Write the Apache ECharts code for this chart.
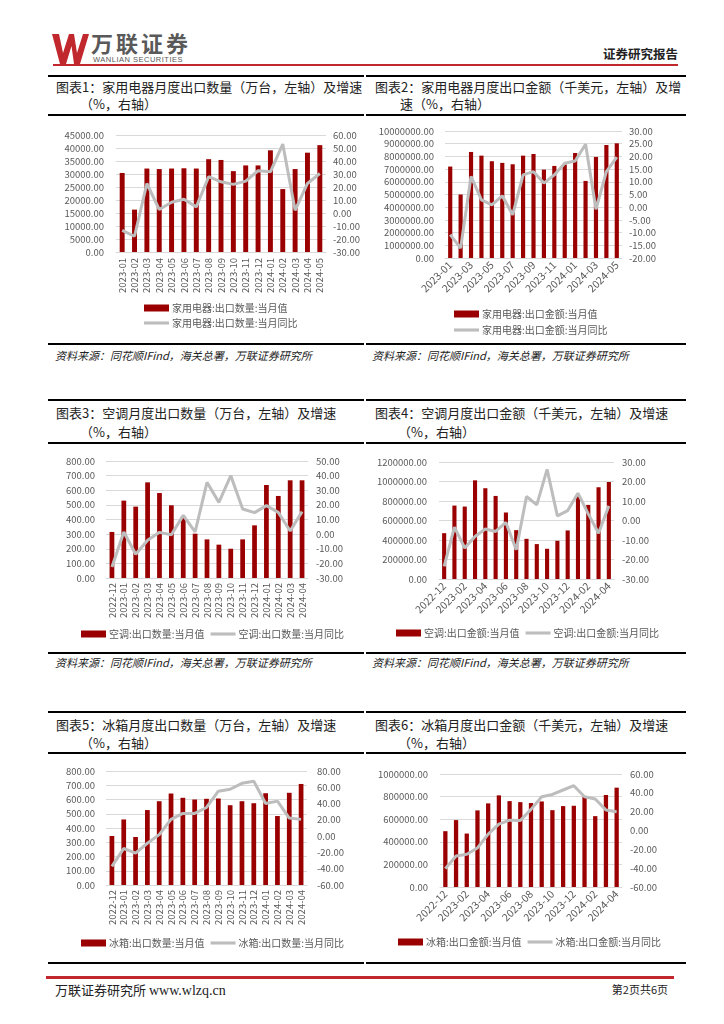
<!DOCTYPE html>
<html><head><meta charset="utf-8">
<script src="https://cdn.jsdelivr.net/npm/echarts@6/dist/echarts.min.js"></script>
<style>
html,body{margin:0;padding:0;background:#fff;}
#page{position:relative;width:724px;height:1024px;overflow:hidden;font-family:"Noto Sans CJK SC",sans-serif;color:#222;}
.t{position:absolute;white-space:nowrap;line-height:1;}
.cap{font-size:13px;}
.src{font-size:11px;font-style:italic;}
.hl{position:absolute;height:2px;background:#000;}
#chart{position:absolute;left:0;top:0;width:724px;height:1024px;z-index:2;}
</style></head>
<body><div id="page">
<svg style="position:absolute;left:52px;top:34px" width="37" height="30" viewBox="0 0 37 30"><path d="M0,0 L7,0 L11,19 L17,0 L22,0 L25,19 L31,0 L37,0 L28,30 L22,30 L19.5,12 L14,30 L8,30 Z" fill="#c0282d"/></svg>
<div class="t" style="left:91px;top:31px;font-size:22px;font-weight:bold;color:#595959;letter-spacing:3px;">万联证券</div>
<div class="t" style="left:93px;top:56px;font-size:7.5px;font-family:'Liberation Sans',sans-serif;color:#595959;letter-spacing:0.5px;">WANLIAN SECURITIES</div>
<div class="t" style="left:53px;top:64px;width:625px;height:1.5px;background:#c0282d;"></div>
<div class="t" style="right:46px;top:48px;font-size:12.5px;font-weight:bold;">证券研究报告</div>

<div class="hl" style="left:48px;top:75px;width:316px"></div><div class="hl" style="left:366px;top:75px;width:320px"></div>
<div class="hl" style="left:48px;top:114px;width:316px"></div><div class="hl" style="left:366px;top:114px;width:320px"></div>
<div class="hl" style="left:48px;top:343px;width:316px"></div><div class="hl" style="left:366px;top:343px;width:320px"></div>
<div class="hl" style="left:48px;top:399px;width:316px"></div><div class="hl" style="left:366px;top:399px;width:320px"></div>
<div class="hl" style="left:48px;top:442px;width:316px"></div><div class="hl" style="left:366px;top:442px;width:320px"></div>
<div class="hl" style="left:48px;top:652px;width:316px"></div><div class="hl" style="left:366px;top:652px;width:320px"></div>
<div class="hl" style="left:48px;top:711px;width:316px"></div><div class="hl" style="left:366px;top:711px;width:320px"></div>
<div class="hl" style="left:48px;top:752px;width:316px"></div><div class="hl" style="left:366px;top:752px;width:320px"></div>
<div class="hl" style="left:48px;top:962px;width:316px"></div><div class="hl" style="left:366px;top:962px;width:320px"></div>

<div class="t cap" style="left:56px;top:80px">图表1：家用电器月度出口数量（万台，左轴）及增速</div>
<div class="t cap" style="left:80px;top:97px">（%，右轴）</div>
<div class="t cap" style="left:375px;top:80px">图表2：家用电器月度出口金额（千美元，左轴）及增</div>
<div class="t cap" style="left:400px;top:97px">速（%，右轴）</div>
<div class="t cap" style="left:56px;top:406px">图表3：空调月度出口数量（万台，左轴）及增速</div>
<div class="t cap" style="left:80px;top:425px">（%，右轴）</div>
<div class="t cap" style="left:375px;top:406px">图表4：空调月度出口金额（千美元，左轴）及增速</div>
<div class="t cap" style="left:398px;top:425px">（%，右轴）</div>
<div class="t cap" style="left:56px;top:718px">图表5：冰箱月度出口数量（万台，左轴）及增速</div>
<div class="t cap" style="left:80px;top:736px">（%，右轴）</div>
<div class="t cap" style="left:375px;top:718px">图表6：冰箱月度出口金额（千美元，左轴）及增速</div>
<div class="t cap" style="left:398px;top:736px">（%，右轴）</div>

<div class="t src" style="left:55px;top:350px">资料来源：同花顺IFind，海关总署，万联证券研究所</div>
<div class="t src" style="left:372px;top:350px">资料来源：同花顺IFind，海关总署，万联证券研究所</div>
<div class="t src" style="left:55px;top:657px">资料来源：同花顺IFind，海关总署，万联证券研究所</div>
<div class="t src" style="left:372px;top:657px">资料来源：同花顺IFind，海关总署，万联证券研究所</div>

<div class="t" style="left:46px;top:976px;width:628px;height:2.5px;background:#c0282d;"></div>
<div class="t" style="left:55px;top:983px;font-size:13px;">万联证券研究所 <span style="font-family:'Liberation Serif',serif;font-size:14px;">www.wlzq.cn</span></div>
<div class="t" style="right:56px;top:984px;font-size:11px;">第2页共6页</div>
<div id="chart"></div>
</div>
<script>
const months1 = ['2023-01','2023-02','2023-03','2023-04','2023-05','2023-06','2023-07','2023-08','2023-09','2023-10','2023-11','2023-12','2024-01','2024-02','2024-03','2024-04','2024-05'];
const months2 = ['2022-12','2023-01','2023-02','2023-03','2023-04','2023-05','2023-06','2023-07','2023-08','2023-09','2023-10','2023-11','2023-12','2024-01','2024-02','2024-03','2024-04'];

const applQty = [30400,16300,32100,31900,32100,32200,32100,35700,35400,31100,33300,33300,39100,24200,31900,38200,41100];
const applQtyYoy = [-13.3,-17.9,22.7,2.7,8.3,10.6,4.7,27.9,24.0,22.0,24.5,32.5,31.7,53.0,2.1,22.7,30.4];
const applVal = [7200000,5000000,8350000,8060000,7620000,7490000,7380000,8060000,8190000,6960000,7250000,7360000,8270000,6070000,7960000,8900000,9030000];
const applValYoy = [-10.8,-16.1,12.1,2.9,0.9,4.5,-3.0,12.7,14.0,9.5,12.7,17.3,18.2,24.8,-0.8,14.0,19.7];
const acQty = [315,529,488,654,581,497,420,303,264,228,200,264,360,636,561,668,668];
const acQtyYoy = [-22.5,1.5,-13.8,-4.2,1.2,-0.4,12.8,1.5,35.4,21.7,40.0,17.2,14.7,19.5,14.9,2.1,15.4];
const acVal = [470000,753000,743000,1012000,931000,852000,682000,501000,412000,358000,310000,392000,498000,848000,760000,941000,995000];
const acValYoy = [-23.5,-3.4,-14.1,-8.2,-4.4,-5.6,-1.0,-15.0,12.3,8.0,26.2,2.4,5.1,14.0,3.4,-6.5,7.5];
const frQty = [344,460,337,526,588,642,612,600,605,607,560,588,574,644,484,647,709];
const frQtyYoy = [-37.2,-15.2,-20.9,-8.7,1.9,20.6,27.9,27.9,35.2,55.2,57.6,64.9,67.4,40.1,43.0,22.2,20.6];
const frVal = [494000,592000,473000,678000,740000,811000,760000,751000,743000,757000,680000,716000,719000,796000,627000,814000,879000];
const frValYoy = [-40.5,-27.0,-25.2,-18.5,-3.9,6.7,11.0,10.6,22.4,35.9,38.3,43.0,47.6,35.9,33.4,21.7,19.9];

const names = [
  ['家用电器:出口数量:当月值','家用电器:出口数量:当月同比'],
  ['家用电器:出口金额:当月值','家用电器:出口金额:当月同比'],
  ['空调:出口数量:当月值','空调:出口数量:当月同比'],
  ['空调:出口金额:当月值','空调:出口金额:当月同比'],
  ['冰箱:出口数量:当月值','冰箱:出口数量:当月同比'],
  ['冰箱:出口金额:当月值','冰箱:出口金额:当月同比']
];

const panels = [
  {grid:{left:116,top:135,width:210,height:117}, cats:months1, bar:applQty, line:applQtyYoy, l:[0,45000,5000], r:[-30,60,10], rot:90, intv:0, lm:12, rm:7, xfs:9.5, xm:6, legend:{orient:'vertical',left:139,top:298,itemGap:5}},
  {grid:{left:445,top:131,width:177,height:127}, cats:months1, bar:applVal, line:applValYoy, l:[0,10000000,1000000], r:[-20,30,5], rot:45, intv:1, lm:11, rm:7, xfs:10.5, xm:5, legend:{orient:'vertical',left:449,top:304,itemGap:6}},
  {grid:{left:106,top:461,width:202,height:117}, cats:months2, bar:acQty, line:acQtyYoy, l:[0,800,100], r:[-30,50,10], rot:90, intv:0, lm:11, rm:8, xfs:9.5, xm:5, legend:{orient:'horizontal',left:76,top:624,itemGap:6}},
  {grid:{left:439,top:462,width:175,height:117}, cats:months2, bar:acVal, line:acValYoy, l:[0,1200000,200000], r:[-30,30,10], rot:45, intv:1, lm:12, rm:8, xfs:10.5, xm:5, legend:{orient:'horizontal',left:391,top:623,itemGap:6}},
  {grid:{left:106,top:771,width:201,height:114}, cats:months2, bar:frQty, line:frQtyYoy, l:[0,800,100], r:[-60,80,20], rot:90, intv:0, lm:11, rm:10, xfs:9.5, xm:5, legend:{orient:'horizontal',left:76,top:933,itemGap:6}},
  {grid:{left:440,top:774,width:182,height:113}, cats:months2, bar:frVal, line:frValYoy, l:[0,1000000,200000], r:[-60,60,20], rot:45, intv:1, lm:12, rm:8, xfs:10.5, xm:5, legend:{orient:'horizontal',left:393,top:932,itemGap:6}}
];

const FONT = '"Noto Sans CJK SC", sans-serif';
const LBL = '#595959';
const GRIDC = '#d9d9d9';
const BAR = '#9a0000';
const LINE = '#bdbdbd';
const LINE_ICON = 'path://M0,0H26V3.2H0Z';

const option = {animation:false, backgroundColor:'transparent', textStyle:{fontFamily:FONT},
  grid:[], xAxis:[], yAxis:[], series:[], legend:[]};

panels.forEach((p,i)=>{
  option.grid.push(Object.assign({containLabel:false}, p.grid));
  option.xAxis.push({type:'category', gridIndex:i, data:p.cats,
    axisLine:{show:true, lineStyle:{color:GRIDC}}, axisTick:{show:false},
    axisLabel:{rotate:p.rot, interval:p.intv, fontSize:p.xfs, color:LBL, margin:p.xm, fontFamily:FONT}});
  option.yAxis.push({type:'value', gridIndex:i, min:p.l[0], max:p.l[1], interval:p.l[2],
    axisLine:{show:false}, axisTick:{show:false},
    splitLine:{lineStyle:{color:GRIDC, width:1}},
    axisLabel:{fontSize:9.5, color:LBL, margin:p.lm, fontFamily:FONT, formatter:v=>v.toFixed(2)}});
  option.yAxis.push({type:'value', gridIndex:i, position:'right', min:p.r[0], max:p.r[1], interval:p.r[2],
    axisLine:{show:false}, axisTick:{show:false}, splitLine:{show:false},
    axisLabel:{fontSize:9.5, color:LBL, margin:p.rm, fontFamily:FONT, formatter:v=>v.toFixed(2)}});
  option.series.push({name:names[i][0], type:'bar', xAxisIndex:i, yAxisIndex:2*i, data:p.bar,
    barWidth:'40%', itemStyle:{color:BAR}, z:2});
  option.series.push({name:names[i][1], type:'line', xAxisIndex:i, yAxisIndex:2*i+1, data:p.line,
    symbol:'none', showSymbol:false, lineStyle:{color:LINE, width:3}, itemStyle:{color:LINE}, z:3});
  option.legend.push(Object.assign({
    data:[{name:names[i][0], icon:'rect'}, {name:names[i][1], icon:LINE_ICON, itemStyle:{color:LINE}}],
    itemWidth:25, itemHeight:7, textStyle:{fontSize:10, color:LBL, fontFamily:FONT, padding:[0,0,0,-2]},
    selectedMode:false}, p.legend));
});

const chart = echarts.init(document.getElementById('chart'), null, {renderer:'canvas'});
chart.setOption(option);
</script></body></html>
